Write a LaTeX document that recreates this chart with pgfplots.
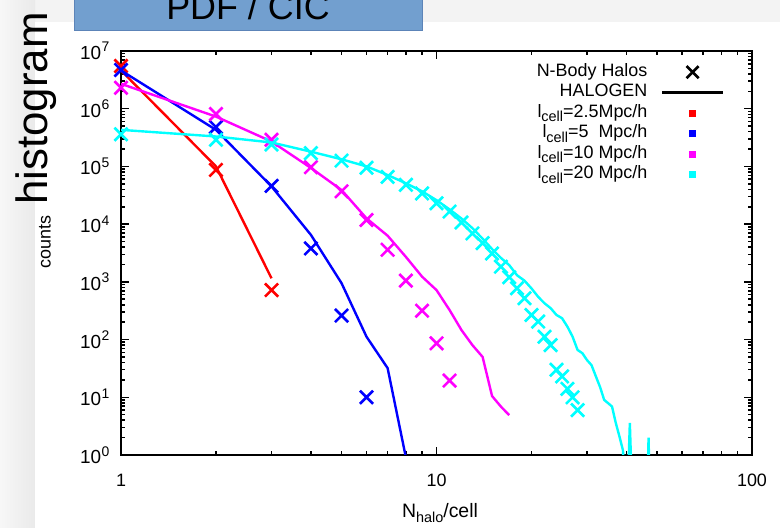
\documentclass[border=0pt]{standalone}
\usepackage{fontspec}
\setmainfont{Liberation Sans}
\usepackage{pgfplots}
\pgfplotsset{compat=1.18}
\definecolor{bgtop}{RGB}{243,243,243}
\definecolor{stripL}{RGB}{247,247,247}
\definecolor{stripR}{RGB}{234,234,234}
\definecolor{boxblue}{RGB}{114,159,207}
\definecolor{boxedge}{RGB}{92,132,184}
\definecolor{cR}{RGB}{255,0,0}
\definecolor{cB}{RGB}{0,0,255}
\definecolor{cM}{RGB}{255,0,255}
\definecolor{cC}{RGB}{0,255,255}
\newcommand{\p}[1]{10\kern0.5bp\raisebox{7.5bp}{\fontsize{14}{14}\selectfont #1}}
\newcommand{\sub}[1]{\raisebox{-4.5bp}{\fontsize{14.5}{14.5}\selectfont #1}}
\begin{document}
\begin{tikzpicture}[x=1bp,y=1bp]
\useasboundingbox (0,0) rectangle (780,528);
\begin{scope}
\clip (0,0) rectangle (780,528);
\fill[bgtop] (0,0) rectangle (780,528);
\shade[left color=stripL,right color=stripR] (0,0) rectangle (35,528);
\fill[white] (35,0) rectangle (780,506);
\filldraw[fill=boxblue,draw=boxedge,line width=1bp] (74,497.5) rectangle (422,540);
\node[anchor=base,inner sep=0,font=\fontsize{36}{36}\selectfont] at (248,508) {PDF / CIC};
\node[rotate=90,anchor=base,inner sep=0,font=\fontsize{44}{44}\selectfont] at (47,419.5) {histogram};
\end{scope}
\begin{axis}[
  at={(121bp,73bp)}, anchor=south west, scale only axis,
  width=631bp, height=404bp,
  xmode=log, ymode=log, xmin=1, xmax=100, ymin=1, ymax=1e7,
  clip mode=individual,
  axis line style={line width=2.2bp},
  every tick/.style={black, line width=1.5bp},
  major tick length=8bp, minor tick length=4bp,
  xtick={1,10,100}, xticklabels={1,10,100},
  ytick={1,10,100,1000,10000,100000,1000000,10000000},
  yticklabels={\p{0},\p{1},\p{2},\p{3},\p{4},\p{5},\p{6},\p{7}},
  tick label style={font=\fontsize{18}{18}\selectfont},
  yticklabel style={font=\fontsize{19}{19}\selectfont, xshift=-8bp},
  xticklabel style={anchor=center, yshift=-25bp},
  xlabel={N\sub{halo}/cell},
  xlabel style={at={(axis description cs:0.5055,-0.1436)}, anchor=center, font=\fontsize{19.5}{19.5}\selectfont},
  ylabel={counts},
  ylabel style={at={(axis description cs:-0.1204,0.527)}, anchor=center, font=\fontsize{18}{18}\selectfont},
  legend plot pos=right,
  legend cell align=right,
  legend style={at={(rel axis cs:0.9564,0.9735)}, anchor=north east, draw=none, fill=none,
    inner sep=0pt, column sep=12bp, row sep=0pt,
    nodes={inner sep=1.5bp, text height=13bp, text depth=4.5bp},
    font=\fontsize{18}{18}\selectfont},
]
\addlegendimage{legend image code/.code={\draw[black,line width=2.6bp,mark=x,mark size=8.5bp] plot coordinates {(30.5bp,0bp)};}}
\addlegendentry{N-Body Halos}
\addlegendimage{legend image code/.code={\draw[black,line width=2.4bp] (0bp,0bp) -- (61bp,0bp);}}
\addlegendentry{HALOGEN}
\addlegendimage{legend image code/.code={\draw[cR,mark=square*,mark size=3bp] plot coordinates {(30.5bp,0bp)};}}
\addlegendentry{l\sub{cell}=2.5Mpc/h}
\addlegendimage{legend image code/.code={\draw[cB,mark=square*,mark size=3bp] plot coordinates {(30.5bp,0bp)};}}
\addlegendentry{l\sub{cell}=5\ \ Mpc/h}
\addlegendimage{legend image code/.code={\draw[cM,mark=square*,mark size=3bp] plot coordinates {(30.5bp,0bp)};}}
\addlegendentry{l\sub{cell}=10 Mpc/h}
\addlegendimage{legend image code/.code={\draw[cC,mark=square*,mark size=3bp] plot coordinates {(30.5bp,0bp)};}}
\addlegendentry{l\sub{cell}=20 Mpc/h}

% red
\addplot[cR, line width=2.4bp, no marks, forget plot] coordinates {(1,4.6e6) (2,1.0e5) (3,1150)};
\addplot[cR, only marks, mark=x, mark size=9.3bp, line width=2.6bp, forget plot] coordinates {(1,5.5e6) (2,8.7e4) (3,720)};
% blue
\addplot[cB, line width=2.4bp, no marks, forget plot] coordinates {(1,4.6e6) (2,4.3e5) (3,4.5e4) (4,6.5e3) (5,950) (6,112) (7,32) (8,0.9)};
\addplot[cB, only marks, mark=x, mark size=9.3bp, line width=2.6bp, forget plot] coordinates {(1,4.7e6) (2,4.8e5) (3,4.6e4) (4,3.8e3) (5,260) (6,10)};
% magenta
\addplot[cM, line width=2.4bp, no marks, forget plot] coordinates {(1,2.7e6) (2,7.3e5) (3,2.7e5) (4,9.4e4) (5,3.9e4) (6,1.26e4) (7,6.3e3) (8,2.7e3) (9,1.23e3) (10,720) (11,325) (12,146) (13,80) (14,50) (15,10.5) (16,6.9) (17,4.9)};
\addplot[cM, only marks, mark=x, mark size=9.3bp, line width=2.6bp, forget plot] coordinates {(1,2.3e6) (2,8.1e5) (3,2.9e5) (4,9.7e4) (5,3.7e4) (6,1.18e4) (7,3.6e3) (8,1.05e3) (9,316) (10,86) (11,19.5)};
% cyan
\addplot[cC, line width=2.4bp, no marks, forget plot] coordinates {(1,4.3e5) (2,3.3e5) (3,2.6e5) (4,1.8e5) (5,1.33e5) (6,1.0e5) (7,7.1e4) (8,5.1e4) (9,3.7e4) (10,2.6e4) (11,1.8e4) (12,1.25e4) (13,8.5e3) (14,5.6e3) (15,3.7e3) (16,2.6e3) (17,1.95e3) (18,1.3e3) (19,1.05e3) (20,770) (21,550) (22,425) (23,350) (24,267) (25,234) (26,167) (27,112) (28,66) (29,58) (30,44) (31,36) (32,23) (33,15) (34,9) (35,7.9) (36,6.9) (37,3.6) (38,2.1) (39,1.2) (40,0.05) (41,3.6) (42,0.05) (46,0.01) (47,2) (48,0.01)};
\addplot[cC, only marks, mark=x, mark size=9.3bp, line width=2.6bp, forget plot] coordinates {(1,3.6e5) (2,2.9e5) (3,2.4e5) (4,1.7e5) (5,1.26e5) (6,9.5e4) (7,6.6e4) (8,4.8e4) (9,3.4e4) (10,2.3e4) (11,1.65e4) (12,1.07e4) (13,6.9e3) (14,4.7e3) (15,3.1e3) (16,1.83e3) (17,1.2e3) (18,775) (19,520) (20,267) (21,205) (22,112) (23,80) (24,30) (25,23) (26,14) (27,10) (28,6)};
\end{axis}
\end{tikzpicture}
\end{document}
